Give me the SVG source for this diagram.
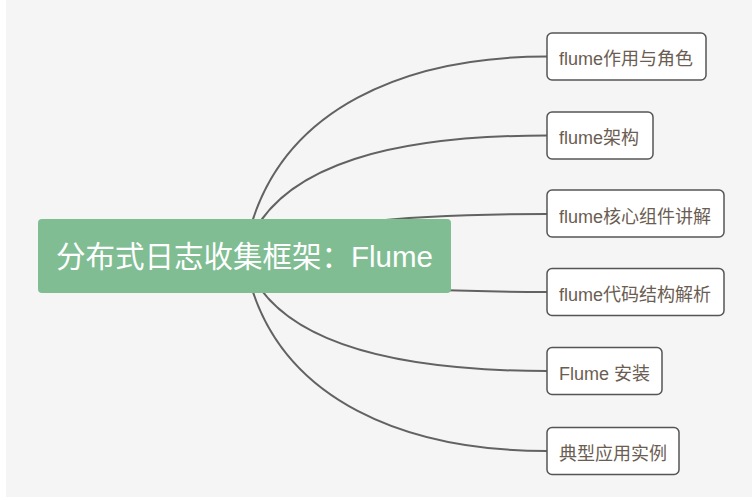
<svg xmlns="http://www.w3.org/2000/svg" width="752" height="500" viewBox="0 0 752 500">
  <style>
    .edge { fill: none; stroke: #626262; stroke-width: 2; stroke-linecap: round; }
    .child rect { fill: #ffffff; stroke: #555555; stroke-width: 1.5; }
    .child text { font-family: "Liberation Sans", "Noto Sans CJK SC", sans-serif; font-size: 18px; fill: #6b5d52; }
    .root rect { fill: #80bd93; }
    .root text { font-family: "Liberation Sans", "Noto Sans CJK SC", sans-serif; font-size: 29.5px; fill: #ffffff; text-anchor: middle; }
  </style>
  <rect x="0" y="0" width="752" height="500" fill="#ffffff"/>
  <rect x="6" y="0" width="746" height="497" fill="#f5f5f5"/>

  <g id="connectors">
    <path class="edge" d="M244,256 C270,99.6 420,56.5 547,56.5"/>
    <path class="edge" d="M244,256 C272,158 410,135.5 547,135.5"/>
    <path class="edge" d="M244,256 C270,223.1 420,214 547,214"/>
    <path class="edge" d="M244,256 C270,284.2 420,292 547,292"/>
    <path class="edge" d="M244,256 C272,349 410,371 547,371"/>
    <path class="edge" d="M244,256 C270,408.9 420,451 547,451"/>
  </g>

  <g id="root" class="root">
    <rect x="38" y="219" width="413" height="74" rx="4"/>
    <text x="244.5" y="267">分布式日志收集框架：Flume</text>
  </g>

  <g id="node1" class="child">
    <rect x="547" y="33" width="159" height="47" rx="5"/>
    <text x="559" y="65">flume作用与角色</text>
  </g>
  <g id="node2" class="child">
    <rect x="547" y="112" width="106" height="47" rx="5"/>
    <text x="559" y="144">flume架构</text>
  </g>
  <g id="node3" class="child">
    <rect x="547" y="190" width="177" height="47" rx="5"/>
    <text x="559" y="222.5">flume核心组件讲解</text>
  </g>
  <g id="node4" class="child">
    <rect x="547" y="268.5" width="177" height="47" rx="5"/>
    <text x="559" y="300.5">flume代码结构解析</text>
  </g>
  <g id="node5" class="child">
    <rect x="547" y="347.5" width="115" height="47" rx="5"/>
    <text x="559" y="379.5">Flume 安装</text>
  </g>
  <g id="node6" class="child">
    <rect x="547" y="427.5" width="132" height="47" rx="5"/>
    <text x="559" y="459.5">典型应用实例</text>
  </g>
</svg>
